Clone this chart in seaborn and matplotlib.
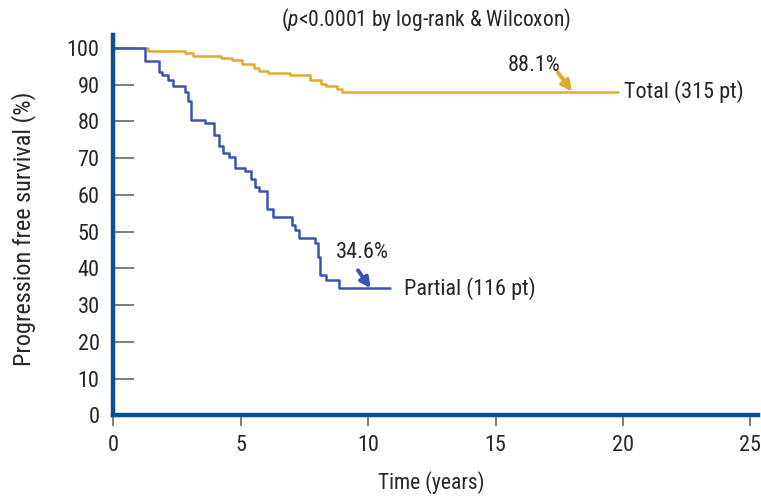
import numpy as np
import pandas as pd
import seaborn as sns
import matplotlib.pyplot as plt

# Kaplan-Meier steps (time in years, survival in %)
partial_t = [0, 1.23, 1.78, 1.92, 2.15, 2.35, 2.81, 2.91, 3.06, 3.6, 3.93, 4.13, 4.29, 4.52, 4.76,
             5.17, 5.4, 5.57, 5.73, 6.02, 6.26, 7.0, 7.13, 7.27, 7.9, 8.05, 8.12, 8.35, 8.84, 10.85]
partial_s = [100, 96.3, 93.3, 92.6, 91.2, 89.7, 87.9, 85.6, 80.5, 79.5, 76.2, 73.4, 71.4, 70.3, 67.3,
             66.5, 64.4, 62.1, 61.0, 56.3, 54.0, 51.8, 50.4, 48.2, 46.8, 43.2, 38.2, 36.9, 34.6, 34.6]

total_t = [0, 1.35, 2.81, 3.14, 4.21, 4.65, 5.04, 5.52, 5.73, 6.08, 6.94, 7.7, 8.13, 8.36, 8.76, 8.98, 19.8]
total_s = [100, 99.2, 98.5, 97.8, 97.2, 96.7, 95.6, 94.4, 93.8, 93.2, 92.6, 91.3, 90.3, 89.7, 88.8, 88.1, 88.1]

x_ticks = [0, 5, 10, 15, 20, 25]
y_ticks = list(range(0, 101, 10))

gold = '#e2a92c'
blue = '#3d52b2'
spine_blue = '#0b4f95'

sns.set_style('white')
narrow = ['Roboto Condensed', 'Archivo Narrow', 'PT Sans Narrow', 'DejaVu Sans']
plt.rcParams['font.family'] = narrow
plt.rcParams['mathtext.fontset'] = 'custom'
plt.rcParams['mathtext.rm'] = 'Roboto Condensed'
plt.rcParams['mathtext.it'] = 'Roboto Condensed:italic'

fig = plt.figure(figsize=(7.61, 5.04), dpi=100)
ax = fig.add_axes([0.149, 0.1756, 0.847, 0.755])

df_total = pd.DataFrame({'t': total_t, 's': total_s})
df_partial = pd.DataFrame({'t': partial_t, 's': partial_s})
sns.lineplot(data=df_total, x='t', y='s', ax=ax, color=gold, linewidth=1.8,
             drawstyle='steps-post', estimator=None, sort=False)
sns.lineplot(data=df_partial, x='t', y='s', ax=ax, color=blue, linewidth=1.8,
             drawstyle='steps-post', estimator=None, sort=False)

ax.set_xlim(0, 25.3)
ax.set_ylim(0, 103.5)
ax.set_xticks(x_ticks)
ax.set_yticks(y_ticks)
ax.tick_params(axis='x', direction='out', length=8, width=1.2, color='#666666',
               labelsize=16, pad=6, bottom=True)
ax.tick_params(axis='y', direction='in', length=15, width=1.2, color='#666666',
               labelsize=16, pad=10, left=True)
for side in ['top', 'right']:
    ax.spines[side].set_visible(False)
for side in ['left', 'bottom']:
    ax.spines[side].set_color(spine_blue)
    ax.spines[side].set_linewidth(3.2)

ax.set_xlabel('Time (years)', fontsize=15.5, va='center')
ax.xaxis.set_label_coords(0.493, -0.177)
ax.set_ylabel('Progression free survival (%)', fontsize=17.5, va='center', ha='center')
ax.yaxis.set_label_coords(-0.14, 0.49)

# annotations
ax.text(16.5, 95.1, '88.1%', fontsize=16, ha='center', va='center')
ax.annotate('', xy=(18.0, 88.1), xytext=(17.45, 93.3),
            arrowprops=dict(arrowstyle='-|>', color=gold, lw=2.8, mutation_scale=15,
                            shrinkA=0, shrinkB=0))
ax.text(20.05, 88.1, 'Total (315 pt)', fontsize=16, ha='left', va='center')

ax.text(9.78, 44.2, '34.6%', fontsize=16, ha='center', va='center')
ax.annotate('', xy=(10.1, 34.6), xytext=(9.6, 39.5),
            arrowprops=dict(arrowstyle='-|>', color=blue, lw=2.8, mutation_scale=15,
                            shrinkA=0, shrinkB=0))
ax.text(11.4, 34.6, 'Partial (116 pt)', fontsize=16, ha='left', va='center')

fig.text(426 / 761, 1 - 20 / 504, r'($\mathit{p}$<0.0001 by log-rank & Wilcoxon)',
         fontsize=15.5, ha='center', va='center')

fig.savefig('out.png', dpi=100)
